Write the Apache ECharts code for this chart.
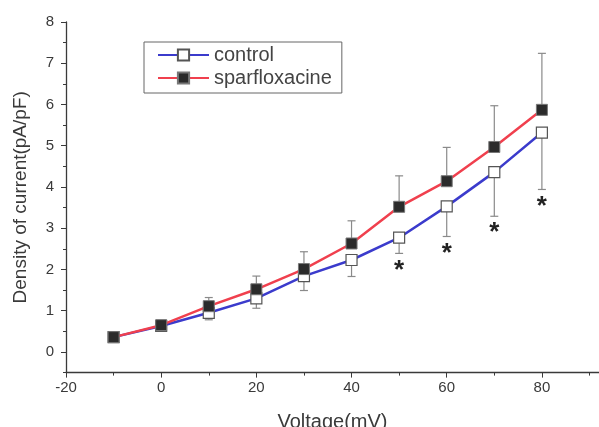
<!DOCTYPE html>
<html><head><meta charset="utf-8">
<script src="https://cdn.jsdelivr.net/npm/echarts@6/dist/echarts.min.js"></script>
<style>html,body{margin:0;padding:0;background:#fff}#c{width:599px;height:427px}</style>
</head><body><div id="c"></div>
<script>
const voltages = [-10, 0, 10, 20, 30, 40, 50, 60, 70, 80];
const controlMean = [0.36, 0.63, 0.95, 1.30, 1.84, 2.23, 2.77, 3.53, 4.36, 5.32];
const controlErr = [0, 0, 0.17, 0.24, 0.35, 0.40, 0.38, 0.73, 1.07, 1.38];
const sparfMean = [0.36, 0.65, 1.11, 1.52, 2.01, 2.63, 3.52, 4.14, 4.97, 5.87];
const sparfErr = [0, 0, 0.21, 0.32, 0.42, 0.55, 0.75, 0.82, 1.00, 1.37];
const sigVoltages = [50, 60, 70, 80];
const xTicks = [-20, 0, 20, 40, 60, 80];
const xMinor = [-10, 10, 30, 50, 70, 90];
const yTicks = [0, 1, 2, 3, 4, 5, 6, 7, 8];
const yMinor = [-0.5, 0.5, 1.5, 2.5, 3.5, 4.5, 5.5, 6.5, 7.5];

const FONT = 'Liberation Sans, Arial, sans-serif';
const AX = '#3a3a3a';

function errRender(dir) {
  return function (params, api) {
    const x = api.value(0), m = api.value(1), e = api.value(2);
    if (!e) return null;
    const p0 = api.coord([x, m]), p1 = api.coord([x, m + dir * e]);
    const hw = 4;
    const st = { stroke: '#8a8a8a', lineWidth: 1.2 };
    return { type: 'group', children: [
      { type: 'line', shape: { x1: p0[0], y1: p0[1], x2: p1[0], y2: p1[1] }, style: st },
      { type: 'line', shape: { x1: p1[0] - hw, y1: p1[1], x2: p1[0] + hw, y2: p1[1] }, style: st }
    ]};
  };
}

const ctrlErrData = voltages.map((v, i) => [v, controlMean[i], controlErr[i]]);
const sparErrData = voltages.map((v, i) => [v, sparfMean[i], sparfErr[i]]);
const starData = sigVoltages.map(v => { const i = voltages.indexOf(v); return [v, controlMean[i] - controlErr[i]]; });

const chart = echarts.init(document.getElementById('c'));
chart.setOption({
  animation: false,
  backgroundColor: '#fff',
  grid: { left: 66, right: 0, top: 22, bottom: 54.4, outerBoundsMode: 'none', containLabel: false },
  legend: {
    orient: 'vertical', left: 144, top: 42,
    padding: [3, 10, 5, 13], itemGap: 3,
    itemWidth: 51, itemHeight: 14,
    borderColor: '#666', borderWidth: 1, borderRadius: 0,
    textStyle: { fontFamily: FONT, fontSize: 20, color: '#444' },
    data: ['control', 'sparfloxacine']
  },
  xAxis: [{
    type: 'value', min: -20, max: 92,
    name: 'Voltage(mV)', nameLocation: 'middle', nameGap: 40,
    nameTextStyle: { fontFamily: FONT, fontSize: 20, color: AX },
    axisLine: { show: true, onZero: false, lineStyle: { color: AX, width: 1.3 } },
    axisTick: { show: true, length: 5, customValues: xTicks, lineStyle: { color: AX } },
    axisLabel: { customValues: xTicks, margin: 8, fontFamily: FONT, fontSize: 15, color: AX },
    splitLine: { show: false }
  }, {
    type: 'value', min: -20, max: 92, position: 'bottom',
    axisLine: { show: false, onZero: false },
    axisTick: { show: true, length: 3, customValues: xMinor, lineStyle: { color: AX } },
    axisLabel: { show: false }, splitLine: { show: false }
  }],
  yAxis: [{
    type: 'value', min: -0.5, max: 8,
    name: 'Density of current(pA/pF)', nameLocation: 'middle', nameGap: 36,
    nameTextStyle: { fontFamily: FONT, fontSize: 19, color: AX },
    axisLine: { show: true, onZero: false, lineStyle: { color: AX, width: 1.3 } },
    axisTick: { show: true, length: 5, customValues: yTicks, lineStyle: { color: AX } },
    axisLabel: { customValues: yTicks, margin: 12, fontFamily: FONT, fontSize: 15, color: AX },
    splitLine: { show: false }
  }, {
    type: 'value', min: -0.5, max: 8, position: 'left',
    axisLine: { show: false, onZero: false },
    axisTick: { show: true, length: 3, customValues: yMinor, lineStyle: { color: AX } },
    axisLabel: { show: false }, splitLine: { show: false }
  }],
  series: [
    { type: 'custom', name: 'ctrlErr', renderItem: errRender(-1), data: ctrlErrData, z: 1, silent: true },
    { type: 'custom', name: 'sparErr', renderItem: errRender(1), data: sparErrData, z: 1, silent: true },
    {
      type: 'line', name: 'control', z: 2,
      data: voltages.map((v, i) => [v, controlMean[i]]),
      symbol: 'rect', symbolSize: 11, showAllSymbol: true,
      lineStyle: { color: '#3b3bcc', width: 2.5 },
      itemStyle: { color: '#fff', borderColor: '#555', borderWidth: 1.2 }
    },
    {
      type: 'line', name: 'sparfloxacine', z: 3,
      data: voltages.map((v, i) => [v, sparfMean[i]]),
      symbol: 'rect', symbolSize: 11, showAllSymbol: true,
      lineStyle: { color: '#f0404e', width: 2.5 },
      itemStyle: { color: '#2b2b2b', borderColor: '#777', borderWidth: 1 }
    },
    {
      type: 'custom', name: 'stars', z: 4, silent: true, data: starData,
      renderItem: function (params, api) {
        const p = api.coord([api.value(0), api.value(1)]);
        return { type: 'text', x: p[0], y: p[1] + 4, style: {
          text: '*', fontFamily: FONT, fontSize: 26, fontWeight: 'bold', fill: '#222',
          align: 'center', verticalAlign: 'top' } };
      }
    }
  ]
});
</script></body></html>
